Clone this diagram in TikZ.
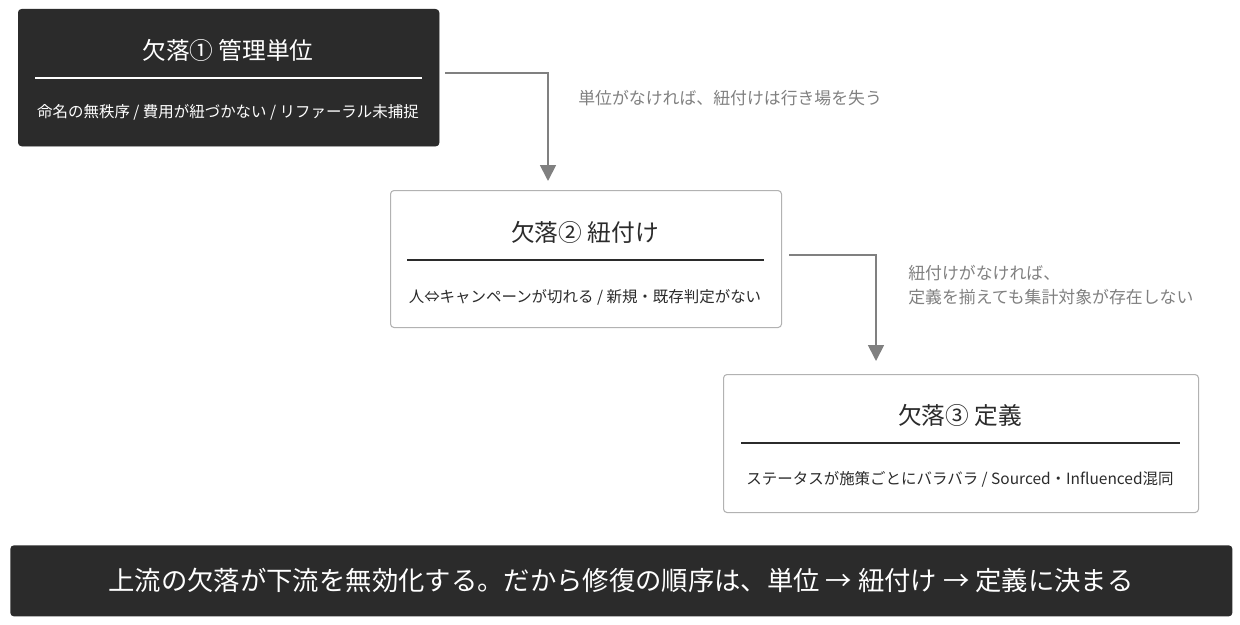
\documentclass[tikz,border=0pt]{standalone}
\usepackage{fontspec}
\setmainfont{Noto Sans CJK JP}
\usetikzlibrary{arrows.meta}
\definecolor{dk}{HTML}{2B2B2B}
\definecolor{gr}{HTML}{808080}
\begin{document}
\begin{tikzpicture}[x=0.02cm,y=-0.02cm,
 dbox/.style={draw=none,fill=dk,rounded corners=2pt,inner sep=0},
 wbox/.style={draw=gray!60,line width=0.6pt,fill=white,rounded corners=2pt,inner sep=0},
 ttl/.style={font=\fontsize{13.5}{16}\selectfont,anchor=center},
 sub/.style={font=\fontsize{8.8}{11}\selectfont,anchor=center},
 lbl/.style={font=\fontsize{9.6}{14}\selectfont,text=gr,anchor=west,align=left,inner sep=0},
 arr/.style={draw=gr,line width=1pt,-{Triangle[length=9pt,width=9pt]}}]
\useasboundingbox (0,0) rectangle (1240,625);
% box 1
\path[dbox] (18,9) rectangle (439,146);
\node[dbox,minimum width=421*0.02cm,minimum height=137*0.02cm,anchor=north west] (b1) at (18,9) {};
\node[ttl,text=white] (t1) at (228,50) {欠落① 管理単位};
\draw[white,line width=0.6pt] (35,78) -- (422,78);
\node[sub,text=white] (s1) at (228,112) {命名の無秩序 / 費用が紐づかない / リファーラル未捕捉};
% box 2
\node[wbox,minimum width=391*0.02cm,minimum height=137*0.02cm,anchor=north west] (b2) at (390,190) {};
\node[ttl,text=dk] (t2) at (585,232) {欠落② 紐付け};
\draw[dk,line width=0.6pt] (407,260) -- (764,260);
\node[sub,text=dk] (s2) at (585,297) {人⇔キャンペーンが切れる / 新規・既存判定がない};
% box 3
\node[wbox,minimum width=475*0.02cm,minimum height=138*0.02cm,anchor=north west] (b3) at (723,374) {};
\node[ttl,text=dk] (t3) at (960,415) {欠落③ 定義};
\draw[dk,line width=0.6pt] (741,443) -- (1180,443);
\node[sub,text=dk] (s3) at (960,479) {ステータスが施策ごとにバラバラ / Sourced・Influenced混同};
% bottom bar
\node[dbox,minimum width=1222*0.02cm,minimum height=71*0.02cm,anchor=north west] (bar) at (10,545) {};
\node[font=\fontsize{15}{18}\selectfont,text=white] (bt) at (621,580) {上流の欠落が下流を無効化する。だから修復の順序は、単位 → 紐付け → 定義に決まる};
% arrows
\coordinate (a1s) at (445,73);
\coordinate (a1e) at (548,181);
\draw[arr] (a1s) -| (a1e);
\node[lbl] (l1) at (578,98) {単位がなければ、紐付けは行き場を失う};
\coordinate (a2s) at (789,255);
\coordinate (a2e) at (876,361);
\draw[arr] (a2s) -| (a2e);
\node[lbl] (l2) at (908,285) {紐付けがなければ、\\定義を揃えても集計対象が存在しない};
\end{tikzpicture}
\end{document}
